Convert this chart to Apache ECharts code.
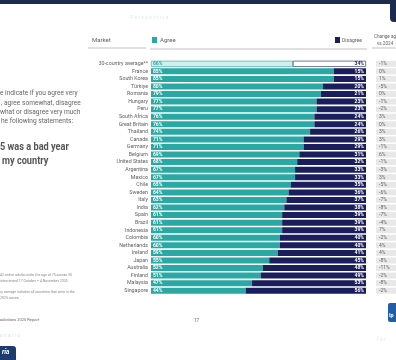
<!DOCTYPE html>
<html><head><meta charset="utf-8">
<script src="https://cdn.jsdelivr.net/npm/echarts@6/dist/echarts.min.js"></script>
<style>html,body{margin:0;padding:0;background:#fff}#c{width:396px;height:360px}</style>
</head><body><div id="c"></div>
<script>
const markets = ["30-country average**","France","South Korea","Türkiye","Romania","Hungary","Peru","South Africa","Great Britain","Thailand","Canada","Germany","Belgium","United States","Argentina","Mexico","Chile","Sweden","Italy","India","Spain","Brazil","Indonesia","Colombia","Netherlands","Ireland","Japan","Australia","Finland","Malaysia","Singapore"];
const agree =    [66,85,85,80,79,77,77,76,76,74,71,71,69,68,67,67,65,64,63,62,61,61,61,60,60,59,55,52,51,47,44];
const disagree = [34,15,15,20,21,23,23,24,24,26,29,29,31,32,33,33,35,36,37,38,39,39,39,40,40,41,45,48,49,53,56];
const change =   ["-1%","0%","1%","-5%","0%","-1%","-2%","3%","0%","3%","3%","-1%","6%","-1%","-3%","3%","-5%","-6%","-7%","-8%","-7%","-4%","7%","-2%","4%","4%","-8%","-11%","-2%","-8%","-2%"];

const TEAL = '#2aa8a3', NAVY = '#1b1e5c', GRAY = '#5f5f5f';
const FF = "'Roboto',sans-serif";

const chart = echarts.init(document.getElementById('c'));
const agreeData = agree.map((v,i)=> i===0 ? {value:v, itemStyle:{color:'#d3efed', borderColor:TEAL, borderWidth:0.6}, label:{color:TEAL}} : v);
const disData = disagree.map((v,i)=> i===0 ? {value:v, itemStyle:{color:'#ffffff', borderColor:NAVY, borderWidth:0.6}, label:{color:NAVY}} : v);

function T(x,y,t,size,extra,sx){return {type:'text',x:x,y:y,scaleX:sx||1,style:Object.assign({text:t,fontSize:size,fill:GRAY,fontFamily:FF},extra||{})};}
const graphics = [
  {type:'rect',shape:{x:0,y:0,width:392,height:4},style:{fill:'#1c2a4d'}},
  {type:'rect',shape:{x:390,y:0,width:6,height:22,r:[0,0,0,4]},style:{fill:'#1c2a4d'}},
  T(130,15,'P e r s p e c t i v e',5,{fill:'#e4e8ee'}),
  // headers
  T(92,37,'Market',6),
  {type:'line',shape:{x1:88,y1:48,x2:146,y2:48},style:{stroke:'#999',lineWidth:0.6}},
  {type:'rect',shape:{x:152,y:37,width:5,height:6},style:{fill:TEAL}},
  T(160,37,'Agree',6),
  {type:'rect',shape:{x:335,y:37,width:5,height:6},style:{fill:NAVY}},
  T(342,37,'Disagree',6,null,0.85),
  {type:'line',shape:{x1:150,y1:49,x2:367,y2:49},style:{stroke:'#999',lineWidth:0.6}},
  T(374,34,'Change agree',5.5,null,0.85),
  T(377,41,'vs 2024',5.5,null,0.85),
  {type:'line',shape:{x1:372,y1:48,x2:396,y2:48},style:{stroke:'#999',lineWidth:0.6}},
  // left text
  T(0,90,'e indicate if you agree very',7,{fill:'#666'},0.94),
  T(1,100,', agree somewhat, disagree',7,{fill:'#666'},0.94),
  T(0,109,'what or disagree very much',7,{fill:'#666'},0.94),
  T(1,118,'he following statements:',7,{fill:'#666'},0.94),
  T(0,141,'5 was a bad year',11.5,{fontWeight:'bold',fill:'#555'},0.8),
  T(2,155,'my country',11.5,{fontWeight:'bold',fill:'#555'},0.8),
  // footnotes
  T(0,273,'42 online adults under the age of 75 across 30',3.5,{fill:'#888'}),
  T(0,279,'interviewed 17 October – 4 November 2025.',3.5,{fill:'#888'}),
  T(0,290,'ry average includes all countries that were in the',3.5,{fill:'#888'}),
  T(0,296,'2025 waves.',3.5,{fill:'#888'}),
  T(0,318,'adictions 2025 Report',4,{fill:'#666'}),
  T(194,318,'17',4.5,{fill:'#666'}),
  // ipsos logo
  {type:'rect',shape:{x:388,y:303,width:12,height:19,r:2},style:{fill:'#1f5fa8'}},
  T(389,313,'Ip',5.5,{fontWeight:'bold',fill:'#fff'}),
  // bottom decorations
  T(0,333,'e n a r i o',5,{fill:'#dfe4ea'}),
  T(377,337,'f o r',5,{fill:'#dfe4ea'}),
  {type:'rect',shape:{x:0,y:346,width:16,height:14,r:[0,3,0,0]},style:{fill:'#1c3b6e'}},
  T(2,349,'ría',6.5,{fontStyle:'italic',fontWeight:'bold',fill:'#fff'})
];

chart.setOption({
  animation:false,
  grid:[
    {left:151, right:30, top:60, bottom:65.5},
    {left:376, width:40, top:60, bottom:65.5}
  ],
  xAxis:[
    {gridIndex:0,type:'value',min:0,max:100,show:false},
    {gridIndex:1,type:'value',min:0,max:1,show:false}
  ],
  yAxis:[
    {gridIndex:0,type:'category',data:markets,inverse:true,axisLine:{show:false},axisTick:{show:false},
     axisLabel:{interval:0,fontSize:5.3,color:GRAY,fontFamily:FF,margin:3}},
    {gridIndex:1,type:'category',data:markets,inverse:true,show:false}
  ],
  series:[
    {type:'bar',stack:'s',data:agreeData,barWidth:6,itemStyle:{color:TEAL},
     label:{show:true,position:'insideLeft',distance:2,formatter:'{c}%',fontSize:5,color:'#fff',fontFamily:FF,fontWeight:'bold'}},
    {type:'bar',stack:'s',data:disData,barWidth:6,itemStyle:{color:NAVY},
     label:{show:true,position:'insideRight',distance:2,formatter:'{c}%',fontSize:5,color:'#fff',fontFamily:FF,fontWeight:'bold'}},
    {type:'bar',xAxisIndex:1,yAxisIndex:1,data:change.map(()=>1),barWidth:6,itemStyle:{color:'#e8e8e8'},silent:true,
     label:{show:true,position:'insideLeft',distance:3,formatter:p=>change[p.dataIndex],fontSize:5,color:'#666',fontFamily:FF}}
  ],
  graphic:graphics
});
</script></body></html>
